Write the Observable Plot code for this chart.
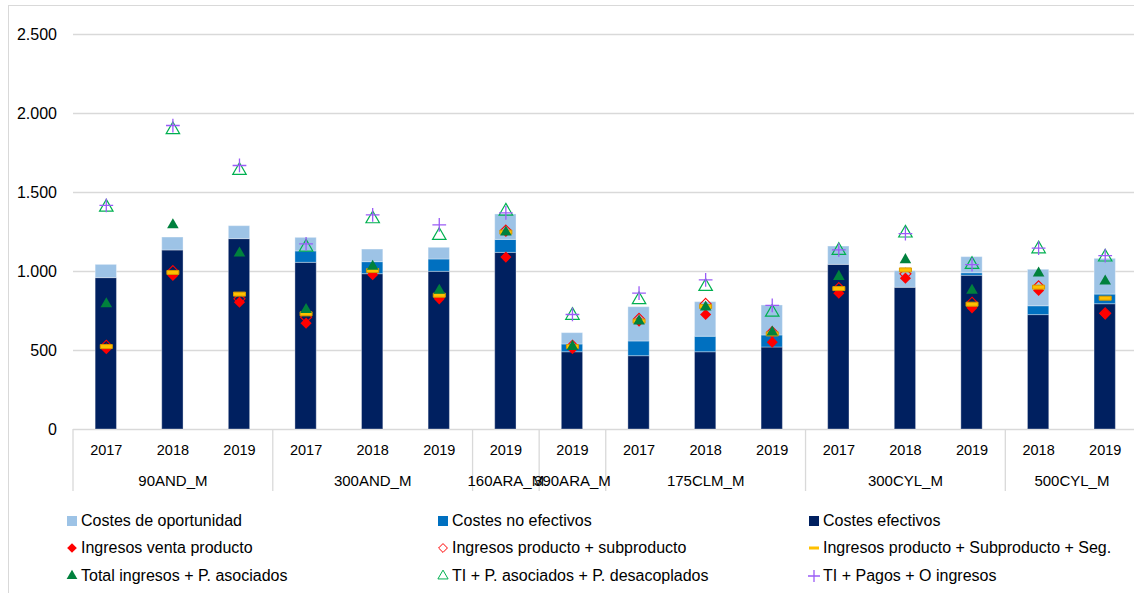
<!DOCTYPE html>
<html>
<head>
<meta charset="utf-8">
<script src="https://cdn.jsdelivr.net/npm/d3@7"></script>
<script src="https://cdn.jsdelivr.net/npm/@observablehq/plot@0.6"></script>
<style>
  html, body { margin: 0; padding: 0; background: #fff; }
  body { font-family: "Liberation Sans", Arial, sans-serif; color: #000; }
  #wrap { position: relative; width: 1134px; height: 593px; overflow: hidden; }
  #frame { position: absolute; left: 8px; top: 5px; width: 1140px; height: 600px; border: 1px solid #d9d9d9; box-sizing: border-box; pointer-events: none; }
  #chart { position: absolute; left: 0; top: 0; }
  #legend { position: absolute; left: 0; top: 0; width: 1134px; height: 593px; pointer-events: none; }
  .item { position: absolute; display: flex; align-items: center; font-size: 16px; white-space: nowrap; transform: translateY(-50%); }
  .item svg { margin-right: 3px; }
</style>
</head>
<body>
<div id="wrap">
  <div id="chart"></div>
  <div id="legend"></div>
  <div id="frame"></div>
</div>
<script>
// ---------- data ----------
const groups = ["90AND_M","90AND_M","90AND_M","300AND_M","300AND_M","300AND_M","160ARA_M","390ARA_M","175CLM_M","175CLM_M","175CLM_M","300CYL_M","300CYL_M","300CYL_M","500CYL_M","500CYL_M"];
const years  = ["2017","2018","2019","2017","2018","2019","2019","2019","2017","2018","2019","2017","2018","2019","2018","2019"];

const costesEfectivos   = [958,1133,1205,1055,983,998,1118,489,464,489,519,1042,897,973,724,793];
const costesNoEfectivos = [0,0,0,72,76,78,82,49,93,98,76,0,0,16,56,61];
const costesOportunidad = [84,82,82,86,80,74,161,72,217,219,190,116,105,102,231,226];

const ingresosVenta      = [511,975,806,673,979,827,1091,511,686,728,553,863,958,770,880,732];
const ingresosProdSub    = [530,1002,827,711,1000,841,1259,530,700,795,616,895,985,802,906,735];
const ingresosProdSubSeg = [525,994,857,732,1006,850,1249,525,686,778,605,892,1010,793,901,831];
const totalIngresosAsoc  = [795,1295,1116,758,1032,880,1249,525,686,774,616,968,1074,880,989,939];
const tiAsocDesac        = [1407,1897,1639,1154,1333,1228,1382,722,821,905,742,1133,1243,1044,1143,1091];
const tiPagosOtros       = [1418,1924,1671,1175,1358,1295,1371,728,863,947,785,1137,1240,1044,1148,1101];

const yTicks = [0, 500, 1000, 1500, 2000, 2500];

const barSeries = ["Costes efectivos", "Costes no efectivos", "Costes de oportunidad"];
const barColors = ["#002060", "#0070C0", "#9DC3E6"];

// ---------- derived tables ----------
const rows = groups.map((g, i) => ({
  i, group: g, year: years[i],
  venta: ingresosVenta[i], prodSub: ingresosProdSub[i], prodSubSeg: ingresosProdSubSeg[i],
  total: totalIngresosAsoc[i], desac: tiAsocDesac[i], pagos: tiPagosOtros[i]
}));

const segs = [];
rows.forEach(r => {
  const vals = [costesEfectivos[r.i], costesNoEfectivos[r.i], costesOportunidad[r.i]];
  let base = 0;
  vals.forEach((v, k) => {
    segs.push({ i: r.i, series: barSeries[k], y1: base, y2: base + v });
    base += v;
  });
});

// group centers and boundaries
const groupRows = [];
const boundaries = [-0.5];
groups.forEach((g, i) => {
  if (i > 0 && g !== groups[i - 1]) boundaries.push(i - 0.5);
  let gr = groupRows.find(d => d.name === g);
  if (!gr) { gr = { name: g, idx: [] }; groupRows.push(gr); }
  gr.idx.push(i);
});
boundaries.push(groups.length - 0.5);
groupRows.forEach(d => d.center = d3.mean(d.idx));

const esFormat = d3.formatLocale({decimal: ",", thousands: ".", grouping: [3], currency: ["", "€"]}).format(",");

const half = 0.16;
const dashSymbol = { draw(ctx) { ctx.rect(-6, -2, 12, 4); } };
const zero = () => 0;

const chart = Plot.plot({
  width: 1134,
  height: 500,
  marginLeft: 73,
  marginRight: 0,
  marginTop: 34,
  marginBottom: 71,
  style: { fontFamily: "Liberation Sans, Arial, sans-serif", background: "transparent", overflow: "visible" },
  x: { type: "linear", domain: [-0.5, groups.length - 0.5], range: [72.5, 1138], axis: null },
  y: { domain: [0, 2500], range: [429, 34], axis: null },
  color: { domain: barSeries, range: barColors },
  marks: [
    Plot.ruleY(yTicks, { stroke: "#d9d9d9", strokeWidth: 1.3 }),
    Plot.text(yTicks, { x: () => -0.5, y: d => d, text: d => esFormat(d), textAnchor: "end", dx: -16, fontSize: 16, fill: "#000" }),
    Plot.ruleX(boundaries, { x: d => d, y1: zero, y2: zero, insetBottom: -62, stroke: "#d9d9d9", strokeWidth: 1.3 }),
    Plot.rect(segs, { x1: d => d.i - half, x2: d => d.i + half, y1: "y1", y2: "y2", fill: "series", stroke: "#ffffff", strokeOpacity: 0.35, strokeWidth: 1 }),
    Plot.text(rows, { x: "i", y: zero, text: "year", dy: 21, fontSize: 14.5, fill: "#000" }),
    Plot.text(groupRows, { x: "center", y: zero, text: "name", dy: 52, fontSize: 15, fill: "#000" }),
    Plot.dot(rows, { x: "i", y: "venta", symbol: "diamond2", r: 5, fill: "#FF0000", stroke: "none" }),
    Plot.dot(rows, { x: "i", y: "prodSub", symbol: "diamond2", r: 5, fill: "none", stroke: "#FF0000", strokeWidth: 1.1 }),
    Plot.dot(rows, { x: "i", y: "prodSubSeg", symbol: dashSymbol, fill: "#FFC000", stroke: "#D79A00", strokeWidth: 1 }),
    Plot.dot(rows, { x: "i", y: "total", symbol: "triangle", r: 4.3, fill: "#00813D", stroke: "none" }),
    Plot.dot(rows, { x: "i", y: "desac", symbol: "triangle", r: 5, fill: "none", stroke: "#00B050", strokeWidth: 1.2 }),
    Plot.dot(rows, { x: "i", y: "pagos", symbol: "plus", r: 4.5, fill: "none", stroke: "#9B5CF6", strokeWidth: 1.3 })
  ]
});
document.getElementById("chart").appendChild(chart);

// ---------- legend ----------
const legendItems = [
  { label: "Costes de oportunidad", kind: "square", color: "#9DC3E6" },
  { label: "Costes no efectivos", kind: "square", color: "#0070C0" },
  { label: "Costes efectivos", kind: "square", color: "#002060" },
  { label: "Ingresos venta producto", kind: "diamond", color: "#FF0000" },
  { label: "Ingresos producto + subproducto", kind: "diamondOpen", color: "#FF0000" },
  { label: "Ingresos producto + Subproducto + Seg.", kind: "dash", color: "#FFC000" },
  { label: "Total ingresos + P. asociados", kind: "triangle", color: "#00813D" },
  { label: "TI + P. asociados + P. desacoplados", kind: "triangleOpen", color: "#00B050" },
  { label: "TI + Pagos + O ingresos", kind: "plus", color: "#9B5CF6" }
];
const colX = [66, 437, 808];
const rowY = [521, 548, 576];
const legend = d3.select("#legend");
legendItems.forEach((it, k) => {
  const div = legend.append("div").attr("class", "item")
    .style("left", colX[k % 3] + "px").style("top", rowY[Math.floor(k / 3)] + "px");
  const svg = div.append("svg").attr("width", 12).attr("height", 14).attr("viewBox", "-6 -7 12 14");
  if (it.kind === "square") svg.append("rect").attr("x", -5).attr("y", -5).attr("width", 10).attr("height", 10).attr("fill", it.color);
  else if (it.kind === "diamond") svg.append("path").attr("d", d3.symbol(d3.symbolDiamond2, 60)()).attr("fill", it.color);
  else if (it.kind === "diamondOpen") svg.append("path").attr("d", d3.symbol(d3.symbolDiamond2, 50)()).attr("fill", "none").attr("stroke", it.color);
  else if (it.kind === "dash") svg.append("rect").attr("x", -5).attr("y", -1.5).attr("width", 10).attr("height", 3).attr("fill", it.color);
  else if (it.kind === "triangle") svg.append("path").attr("d", d3.symbol(d3.symbolTriangle, 50)()).attr("fill", it.color);
  else if (it.kind === "triangleOpen") svg.append("path").attr("d", d3.symbol(d3.symbolTriangle, 45)()).attr("fill", "none").attr("stroke", it.color);
  else if (it.kind === "plus") svg.append("path").attr("d", d3.symbol(d3.symbolPlus, 50)()).attr("fill", "none").attr("stroke", it.color).attr("stroke-width", 1.3);
  div.append("span").text(it.label);
});
</script>
</body>
</html>
